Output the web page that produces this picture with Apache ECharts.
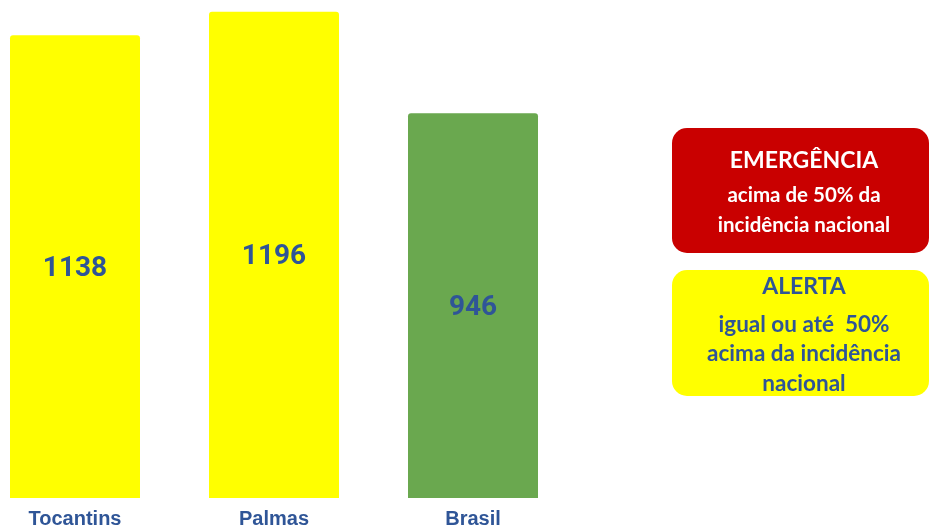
<!DOCTYPE html>
<html>
<head>
<meta charset="utf-8">
<script src="https://cdn.jsdelivr.net/npm/echarts@6/dist/echarts.min.js"></script>
<style>
html,body{margin:0;padding:0;background:#fff;}
#chart{width:929px;height:529px;}
</style>
</head>
<body>
<div id="chart"></div>
<script>
// dados
var categorias = ['Tocantins', 'Palmas', 'Brasil'];
var incidencia = [1138, 1196, 946];
var coresBarras = ['#FFFF00', '#FFFF00', '#6AA84F'];

var caixaEmergencia = ['EMERGÊNCIA', 'acima de 50% da', 'incidência nacional'];
var caixaAlerta = ['ALERTA', 'igual ou até  50%', 'acima da incidência', 'nacional'];

var azul = '#2F5597';

var chart = echarts.init(document.getElementById('chart'));

var option = {
    animation: false,
    grid: {
        left: 75,
        width: 398,
        top: 10,
        bottom: 30
    },
    xAxis: {
        type: 'category',
        data: categorias,
        boundaryGap: false,
        axisLine: {show: false},
        axisTick: {show: false},
        axisLabel: {
            margin: 11,
            color: azul,
            fontFamily: 'Liberation Sans',
            fontWeight: 'bold',
            fontSize: 20
        }
    },
    yAxis: {
        type: 'value',
        min: 0,
        max: 1200,
        show: false,
        splitLine: {show: false}
    },
    series: [{
        type: 'bar',
        barWidth: 130,
        clip: false,
        data: incidencia.map(function (v, i) {
            return {value: v, itemStyle: {color: coresBarras[i]}};
        }),
        itemStyle: {borderRadius: [3, 3, 0, 0]},
        label: {
            show: true,
            position: 'inside',
            offset: [0, 2],
            color: azul,
            fontFamily: 'Roboto',
            fontWeight: 'bold',
            fontSize: 28
        }
    }],
    graphic: [
        {
            type: 'rect',
            shape: {x: 672, y: 128, width: 257, height: 125, r: 15},
            style: {fill: '#C90000'}
        },
        {
            type: 'text',
            x: 804, y: 161,
            style: {
                text: caixaEmergencia[0],
                fill: '#fff',
                font: 'bold 23px Lato',
                align: 'center',
                verticalAlign: 'middle'
            }
        },
        {
            type: 'text',
            x: 804, y: 210,
            style: {
                text: caixaEmergencia.slice(1).join('\n'),
                fill: '#fff',
                font: 'bold 20.5px Lato',
                lineHeight: 30,
                align: 'center',
                verticalAlign: 'middle'
            }
        },
        {
            type: 'rect',
            shape: {x: 672, y: 270, width: 257, height: 126, r: 15},
            style: {fill: '#FFFF00'}
        },
        {
            type: 'text',
            x: 804, y: 287,
            style: {
                text: caixaAlerta[0],
                fill: azul,
                font: 'bold 23px Lato',
                align: 'center',
                verticalAlign: 'middle'
            }
        },
        {
            type: 'text',
            x: 804, y: 354,
            style: {
                text: caixaAlerta.slice(1).join('\n'),
                fill: azul,
                font: 'bold 22.5px Lato',
                lineHeight: 29.5,
                align: 'center',
                verticalAlign: 'middle'
            }
        }
    ]
};

chart.setOption(option);
</script>
</body>
</html>
